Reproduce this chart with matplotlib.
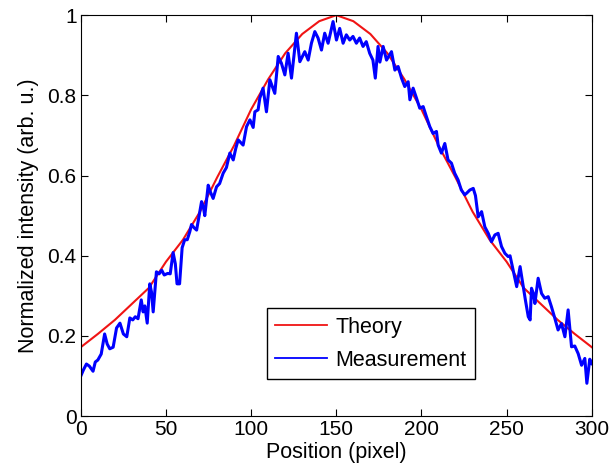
import matplotlib.pyplot as plt

plt.rcParams['font.family'] = ['Liberation Sans', 'DejaVu Sans']

# Theory curve, every 10 pixels
theory_x = list(range(0, 301, 10))
theory_y = [0.172, 0.205, 0.24, 0.28, 0.32, 0.385, 0.44, 0.51, 0.595, 0.675,
            0.765, 0.84, 0.905, 0.953, 0.985, 1.0, 0.985, 0.953, 0.905, 0.84,
            0.765, 0.675, 0.595, 0.51, 0.44, 0.385, 0.32, 0.28, 0.24, 0.205, 0.172]

# Measured profile
meas_x = [0, 1.5, 3.3, 5, 7.2, 8.5, 10, 12, 14, 15.5, 17, 19, 21, 23, 25, 27,
          28.8, 30.5, 32, 33.6, 35.5, 36.6, 37.6, 39, 40.5, 41.5, 42.5, 44.4,
          46, 47.5, 49, 51, 52.5, 54.2, 55.5, 56.5, 58, 59.5, 61, 62.5, 64, 65,
          66.5, 68, 69.5, 70.9, 72, 72.8, 74.8, 76, 77.7, 79.7, 81.5, 83.6,
          85.5, 87.5, 89.5, 91, 92.4, 95.3, 97.3, 99.3, 101.2, 102.2, 104.1,
          105.1, 107, 109, 111, 113.9, 115.9, 117.8, 119.8, 121.7, 123.7,
          126.6, 128.6, 131.5, 133.5, 135.4, 137.4, 139.3, 141.3, 143.2, 145.2,
          148.1, 150.1, 152, 154, 155.9, 157.9, 159.8, 161.8, 163.7, 165.7,
          167.6, 169.6, 171.5, 172.9, 174.5, 175.6, 177.5, 179.5, 182.4, 184.4,
          186.3, 188.3, 190.2, 192.2, 193.2, 195.1, 197.1, 199, 201, 202.9,
          204.9, 206.8, 208.8, 209.8, 211.7, 213.7, 215.6, 217.6, 219.5, 221.5,
          223.4, 225.4, 226.5, 228.4, 230.4, 231.7, 233.3, 235.3, 237.2, 239.2,
          241.1, 243.1, 245, 247, 249, 250.9, 252, 253.5, 255.9, 257.9, 259.5,
          261, 262.7, 263.8, 264.6, 265.7, 266.6, 268.5, 270.5, 272.4, 274.4,
          276.3, 278.3, 280.2, 282.2, 284.2, 286.1, 288.1, 290, 292, 294, 295.9,
          297.1, 298.8, 300]
meas_y = [0.10, 0.115, 0.13, 0.125, 0.112, 0.135, 0.14, 0.155, 0.205, 0.18,
          0.168, 0.172, 0.22, 0.232, 0.205, 0.198, 0.245, 0.24, 0.248, 0.243,
          0.29, 0.26, 0.275, 0.232, 0.33, 0.31, 0.26, 0.36, 0.355, 0.364, 0.352,
          0.356, 0.355, 0.408, 0.38, 0.33, 0.33, 0.42, 0.44, 0.44, 0.46, 0.478,
          0.47, 0.464, 0.5, 0.535, 0.52, 0.5, 0.576, 0.56, 0.543, 0.572, 0.58,
          0.606, 0.62, 0.656, 0.639, 0.668, 0.689, 0.676, 0.722, 0.739, 0.72,
          0.759, 0.764, 0.793, 0.818, 0.759, 0.839, 0.805, 0.897, 0.88, 0.851,
          0.905, 0.843, 0.955, 0.884, 0.909, 0.888, 0.93, 0.959, 0.943, 0.913,
          0.955, 0.93, 0.984, 0.938, 0.967, 0.93, 0.951, 0.938, 0.947, 0.93,
          0.943, 0.922, 0.934, 0.905, 0.888, 0.843, 0.922, 0.883, 0.922, 0.888,
          0.909, 0.863, 0.872, 0.843, 0.822, 0.834, 0.789, 0.818, 0.793, 0.768,
          0.772, 0.747, 0.722, 0.705, 0.71, 0.676, 0.656, 0.68, 0.639, 0.631,
          0.606, 0.589, 0.564, 0.552, 0.556, 0.564, 0.568, 0.55, 0.497, 0.51,
          0.472, 0.456, 0.435, 0.452, 0.456, 0.423, 0.406, 0.398, 0.4, 0.37,
          0.323, 0.373, 0.33, 0.29, 0.248, 0.24, 0.319, 0.306, 0.281, 0.344,
          0.306, 0.294, 0.298, 0.273, 0.244, 0.215, 0.231, 0.198, 0.265, 0.173,
          0.175, 0.156, 0.127, 0.144, 0.082, 0.142, 0.131]

fig = plt.figure(figsize=(6.12, 4.74), dpi=100)
ax = fig.add_axes([0.132, 0.122, 0.835, 0.846])

ax.plot(theory_x, theory_y, color='#f01414', lw=1.5, label='Theory')
ax.plot(meas_x, meas_y, color='#0000ff', lw=2.2, label='Measurement')

ax.set_xlim(0, 300)
ax.set_ylim(0, 1)
ax.set_xticks([0, 50, 100, 150, 200, 250, 300])
ax.set_yticks([0, 0.2, 0.4, 0.6, 0.8, 1])
ax.set_yticklabels(['0', '0.2', '0.4', '0.6', '0.8', '1'])
ax.tick_params(direction='in', top=True, right=True, labelsize=15, length=5, pad=3)
ax.set_xlabel('Position (pixel)', fontsize=15.5, labelpad=2)
ax.set_ylabel('Normalized intensity (arb. u.)', fontsize=15.5, labelpad=6)

leg = ax.legend(loc='lower left', bbox_to_anchor=(0.364, 0.092), fontsize=15.5,
                fancybox=False, edgecolor='black', framealpha=1,
                borderaxespad=0, handlelength=2.4, labelspacing=0.55,
                borderpad=0.4, handletextpad=0.4)
leg.get_frame().set_linewidth(1.0)
for h in leg.get_lines():
    h.set_linewidth(1.3)

plt.savefig('out.png', dpi=100)
